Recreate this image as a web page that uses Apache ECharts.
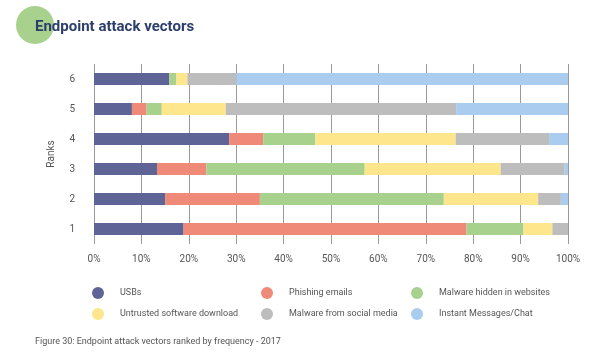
<!DOCTYPE html>
<html>
<head>
<meta charset="utf-8">
<script src="https://cdn.jsdelivr.net/npm/echarts@6/dist/echarts.min.js"></script>
<style>html,body{margin:0;padding:0;background:#fff}#c{width:600px;height:355px}</style>
</head>
<body>
<div id="c"></div>
<script>
const ranks = ['1', '2', '3', '4', '5', '6'];
const seriesNames = ['USBs', 'Phishing emails', 'Malware hidden in websites', 'Untrusted software download', 'Malware from social media', 'Instant Messages/Chat'];
const usbs = [18.9, 15.0, 13.3, 28.5, 8.0, 15.9];
const phishing = [59.7, 20.0, 10.4, 7.2, 3.1, 0];
const malwareWebsites = [12.0, 38.8, 33.4, 11.0, 3.2, 1.5];
const untrustedDownload = [6.1, 19.9, 28.7, 29.6, 13.5, 2.3];
const socialMedia = [3.3, 4.8, 13.5, 19.7, 48.6, 10.3];
const instantMessages = [0, 1.5, 0.7, 4.0, 23.6, 70.0];
const xTicks = [0, 10, 20, 30, 40, 50, 60, 70, 80, 90, 100];

const colors = ['#5e6495', '#ef8a78', '#a8d18e', '#fde68b', '#bdbdbd', '#aacdef'];
const values = [usbs, phishing, malwareWebsites, untrustedDownload, socialMedia, instantMessages];

const legendPos = [
  {left: 87, top: 282}, {left: 256, top: 282}, {left: 406, top: 282},
  {left: 87, top: 303}, {left: 256, top: 303}, {left: 406, top: 303}
];

const chart = echarts.init(document.getElementById('c'));
chart.setOption({
  animation: false,
  textStyle: {fontFamily: 'Roboto, "Noto Sans", sans-serif'},
  graphic: [{
    type: 'circle', shape: {cx: 35, cy: 25, r: 19}, style: {fill: '#a9d18e'}, z: 0
  }, {
    type: 'text', left: 35, top: 337,
    style: {text: 'Figure 30: Endpoint attack vectors ranked by frequency - 2017', fill: '#555', font: '9px Roboto, "Noto Sans", sans-serif'}
  }],
  title: {
    text: 'Endpoint attack vectors', left: 30, top: 15,
    textStyle: {color: '#2c3e6b', fontSize: 15, fontWeight: 'bold', fontFamily: 'Roboto, "Noto Sans", sans-serif'},
    z: 10
  },
  legend: seriesNames.map((n, i) => ({
    data: [n], left: legendPos[i].left, top: legendPos[i].top,
    icon: 'circle', itemWidth: 12, itemHeight: 12, selectedMode: false,
    textStyle: {color: '#555', fontSize: 9, padding: [0, 0, 0, 11]}
  })),
  grid: {left: 94, right: 32, top: 64, bottom: 111},
  xAxis: {
    type: 'value', min: 0, max: 100, interval: 10,
    axisLine: {show: false}, axisTick: {show: false},
    axisLabel: {formatter: v => xTicks.includes(v) ? v + '%' : '', color: '#555', fontSize: 10, margin: 10},
    splitLine: {show: true, lineStyle: {color: '#9a9a9a', width: 1}}
  },
  yAxis: {
    type: 'category', data: ranks,
    axisLine: {show: false}, axisTick: {show: false},
    axisLabel: {color: '#555', fontSize: 10, margin: 19},
    name: 'Ranks', nameLocation: 'middle', nameRotate: 90, nameGap: 38,
    nameTextStyle: {color: '#555', fontSize: 10}
  },
  series: seriesNames.map((n, i) => ({
    name: n, type: 'bar', stack: 'total', barWidth: 12,
    itemStyle: {color: colors[i]}, data: values[i]
  }))
});
</script>
</body>
</html>
